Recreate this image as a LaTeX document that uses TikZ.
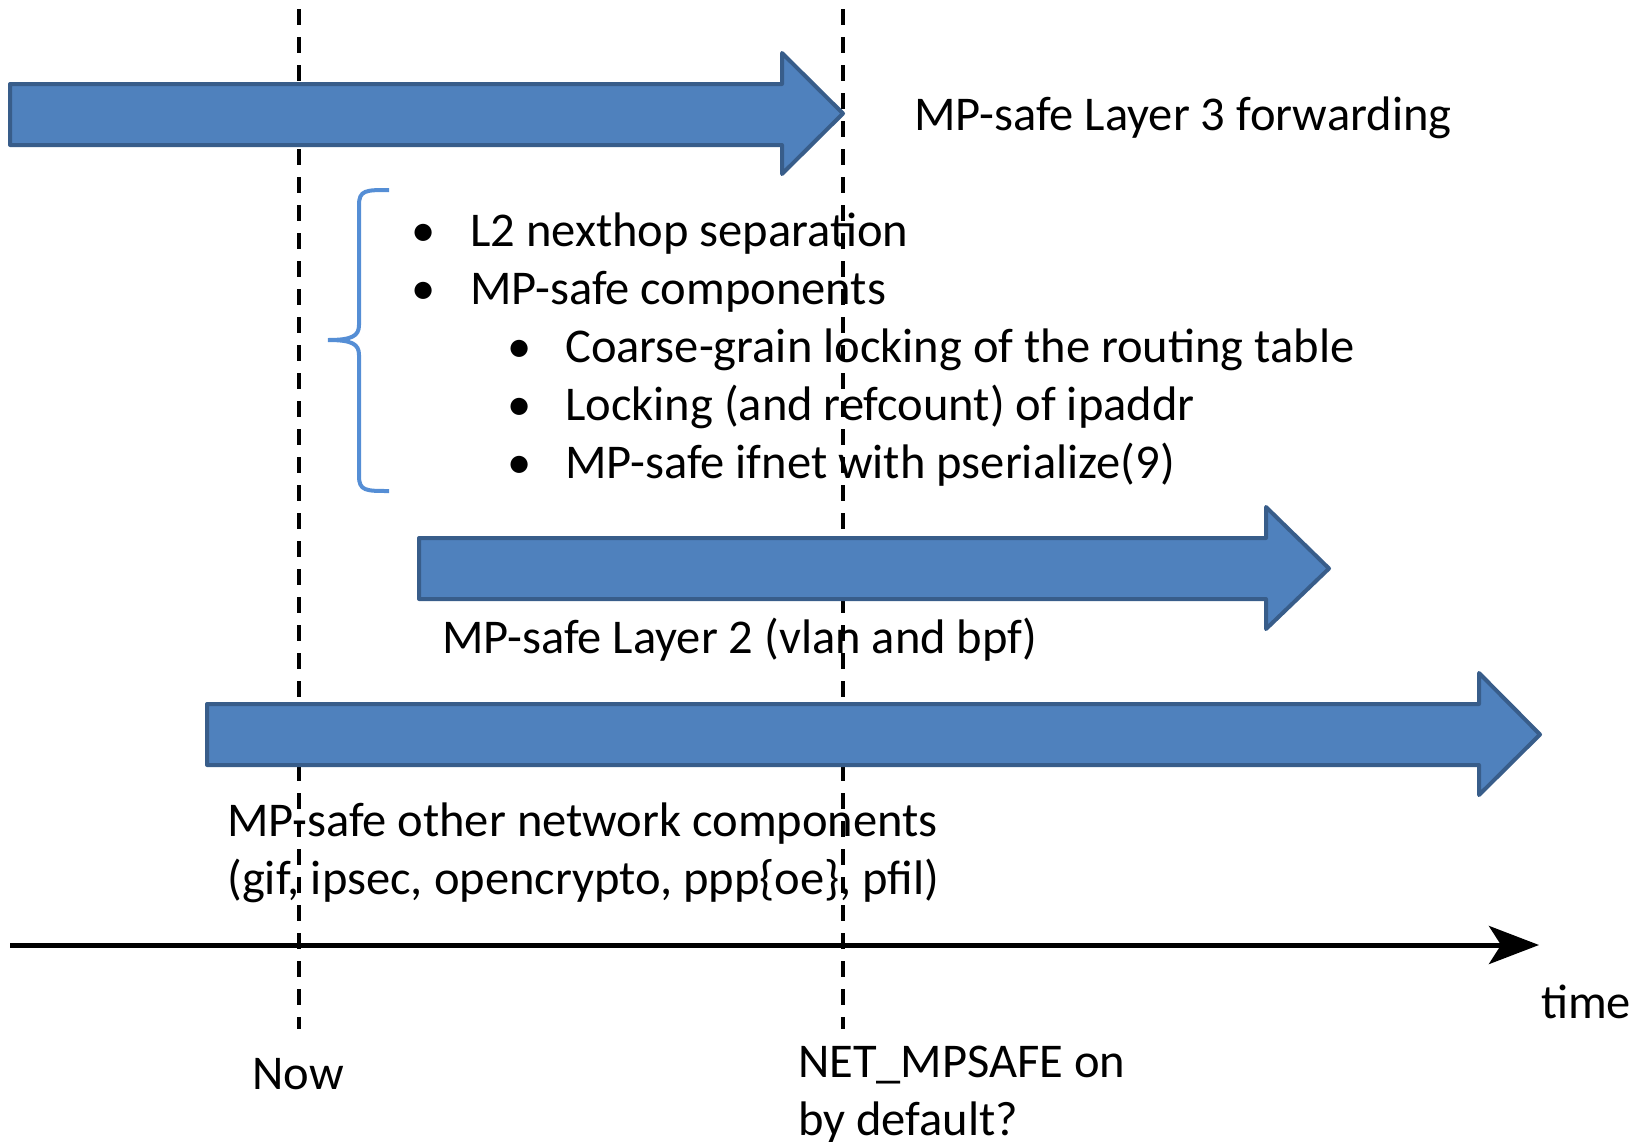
\documentclass[tikz,border=0pt]{standalone}
\usepackage{fontspec}
\setmainfont{Carlito}
\usetikzlibrary{arrows.meta}
\definecolor{arrfill}{HTML}{4F81BD}
\definecolor{arrline}{HTML}{385D8A}
\definecolor{bracecol}{HTML}{558ED5}
\tikzset{
  bigarrow/.style={fill=arrfill,draw=arrline,line width=4pt,line join=round},
  milestone/.style={line width=4pt,dash pattern=on 16pt off 12pt},
  lbl/.style={inner sep=0pt,anchor=base west,font=\fontsize{48.5}{58}\selectfont},
  bul/.style={inner sep=0pt,anchor=base,font=\fontsize{48.5}{58}\selectfont},
}
\begin{document}
\begin{tikzpicture}[x=1pt,y=-1pt]
\useasboundingbox (0,0) rectangle (1647,1141);
% milestones
\coordinate (nowtop) at (299,9);
\coordinate (nowbot) at (299,1029);
\coordinate (nettop) at (843,9);
\coordinate (netbot) at (843,1029);
\draw[milestone] (nowtop) -- (nowbot);
\draw[milestone] (nettop) -- (netbot);
% arrows
\draw[bigarrow] (10,84) -- (782,84) -- (782,53) -- (843,113.5) -- (782,174) -- (782,145) -- (10,145) -- cycle;
\draw[bigarrow] (419,538) -- (1266,538) -- (1266,507) -- (1329,568.5) -- (1266,629) -- (1266,599) -- (419,599) -- cycle;
\draw[bigarrow] (207,704) -- (1479,704) -- (1479,673) -- (1540,734.5) -- (1479,795) -- (1479,765) -- (207,765) -- cycle;
% brace
\draw[bracecol,line width=4pt] (389,190) .. controls (366,190) and (359,190) .. (359,205)
  -- (359,325) .. controls (359,336) and (352,340) .. (328,340)
  .. controls (352,340) and (359,344) .. (359,355)
  -- (359,476) .. controls (359,491) and (366,491) .. (389,491);
% time axis
\coordinate (tstart) at (10,945);
\coordinate (tend) at (1539,945);
\draw[line width=5pt,-{Stealth[length=50pt,width=38pt,inset=12pt]}] (tstart) -- (tend);
% texts
\node[lbl] (l3) at (914,130) {MP-safe Layer 3 forwarding};
\node[bul] (b1) at (424,246) {•};
\node[lbl] (t1) at (470,246) {L2 nexthop separation};
\node[bul] (b2) at (424,304) {•};
\node[lbl] (t2) at (470,304) {MP-safe components};
\node[bul] (b3) at (520,362) {•};
\node[lbl] (t3) at (565,362) {Coarse-grain locking of the routing table};
\node[bul] (b4) at (520,420) {•};
\node[lbl] (t4) at (565,420) {Locking (and refcount) of ipaddr};
\node[bul] (b5) at (520,478) {•};
\node[lbl] (t5) at (565,478) {MP-safe ifnet with pserialize(9)};
\node[lbl] (l2) at (442,653) {MP-safe Layer 2 (vlan and bpf)};
\node[lbl] (o1) at (227,836) {MP-safe other network components};
\node[lbl] (o2) at (227,894) {(gif, ipsec, opencrypto, ppp\{oe\}, pfil)};
\node[lbl] (time) at (1541,1018) {time};
\node[bul] (now) at (298,1089) {Now};
\node[lbl] (net1) at (798,1077) {NET\_MPSAFE on};
\node[lbl] (net2) at (798,1135) {by default?};
\end{tikzpicture}
\end{document}
